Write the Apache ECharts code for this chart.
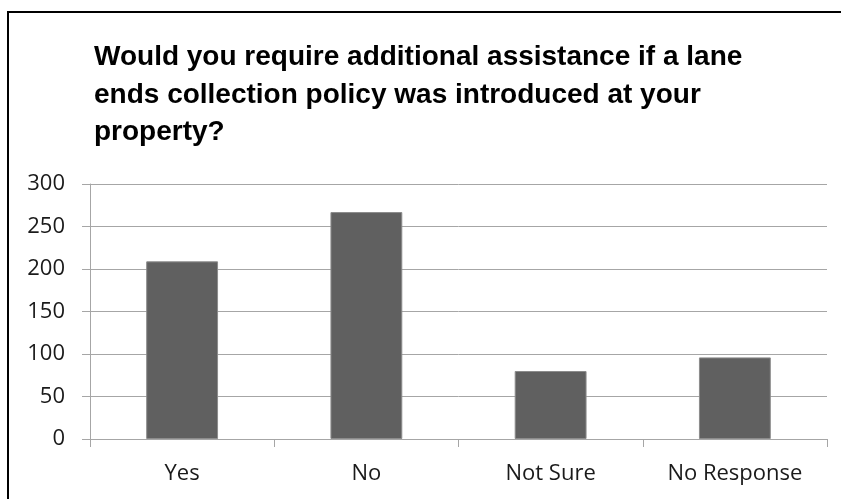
<!DOCTYPE html>
<html>
<head>
<meta charset="utf-8">
<script src="https://cdn.jsdelivr.net/npm/echarts@6/dist/echarts.min.js"></script>
<style>
html,body{margin:0;padding:0;background:#fff;}
#chart{width:841px;height:499px;}
</style>
</head>
<body>
<div id="chart"></div>
<script>
var categories = ['Yes', 'No', 'Not Sure', 'No Response'];
var responses = [209, 267, 80, 96];
var yTicks = [0, 50, 100, 150, 200, 250, 300];
var titleLines = ['Would you require additional assistance if a lane', 'ends collection policy was introduced at your', 'property?'];

var chart = echarts.init(document.getElementById('chart'), null, {renderer: 'canvas'});
var gridColor = '#a6a6a6';
chart.setOption({
  animation: false,
  backgroundColor: '#ffffff',
  title: {
    text: titleLines.join('\n'),
    left: 94,
    top: 39,
    padding: 0,
    textStyle: {
      fontFamily: '"Liberation Sans", Arial, sans-serif',
      fontWeight: 'bold',
      fontSize: 28,
      lineHeight: 37.5,
      color: '#000000'
    }
  },
  graphic: [{
    type: 'rect',
    shape: {x: 8, y: 12, width: 900, height: 600},
    style: {fill: 'none', stroke: '#000000', lineWidth: 2},
    silent: true
  }],
  grid: {left: 90, right: 14, top: 184, bottom: 60, containLabel: false},
  xAxis: {
    type: 'category',
    data: categories,
    axisLine: {show: true, lineStyle: {color: gridColor, width: 1}},
    axisTick: {show: true, alignWithLabel: false, length: 8, lineStyle: {color: gridColor}},
    axisLabel: {
      margin: 24,
      fontFamily: '"Open Sans", "Liberation Sans", sans-serif',
      fontSize: 22,
      color: '#1a1a1a'
    }
  },
  yAxis: {
    type: 'value',
    min: yTicks[0],
    max: yTicks[yTicks.length - 1],
    interval: yTicks[1] - yTicks[0],
    axisLine: {show: true, lineStyle: {color: gridColor, width: 1}},
    axisTick: {show: true, length: 8, lineStyle: {color: gridColor}},
    splitLine: {show: true, lineStyle: {color: gridColor, width: 1}},
    axisLabel: {
      margin: 25,
      fontFamily: '"Open Sans", "Liberation Sans", sans-serif',
      fontSize: 22,
      color: '#1a1a1a'
    }
  },
  series: [{
    type: 'bar',
    data: responses,
    barWidth: '39%',
    itemStyle: {color: '#606060', borderColor: '#8c8c8c', borderWidth: 1}
  }]
});
</script>
</body>
</html>
